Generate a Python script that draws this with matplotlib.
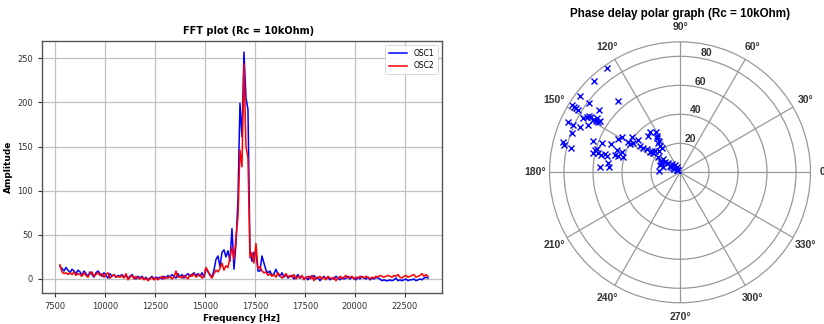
import numpy as np
import matplotlib
matplotlib.use("Agg")
import matplotlib.pyplot as plt

# ---- FFT spectrum (100 Hz bins starting at 7750 Hz) ----
f_start = 7750
f_step = 100

osc1_amp = [
    14, 12, 9, 13, 10, 7, 11, 9, 6, 10,
    8, 4, 9, 6, 3, 8, 5, 2, 7, 9,
    6, 3, 7, 4, 1, 6, 3, 5, 2, 4,
    3, 5, 2, 4, 1, 3, 5, 2, 0, 3,
    1, 3, 0, 2, -1, 1, 3, 0, 2, 1,
    2, 0, 3, 1, 4, 2, 5, 3, 1, 6,
    2, 5, 1, 4, 6, 3, 5, 7, 4, 6,
    3, 7, 2, 12, 8, 5, 2, 10, 22, 26,
    14, 30, 33, 25, 32, 20, 57, 11, 40, 90,
    199, 161, 257, 205, 192, 32, 20, 30, 30, 9,
    9, 26, 18, 10, 7, 9, 4, 6, 11, 5,
    3, 7, 2, 5, 1, 3,
    4, 0, 2, 5, 1, 3, 0, 2, -1, 3,
    1, 4, 0, 2, -2, 1, 3, 0, 2, -1,
    1, 0, 3, 1, -1, 2, 0, 1, 3, 0,
    2, 1, -1, 2, 0, 3, 1, 0, 2, -1,
    1, 0, 2, 1, 0, -2, -1, -2, -2, -1,
    -2, -1, 1, -2, -1, -2, -1, 0, -2, -1,
    -1, 0, -2, -1, 0, -1, 1, 2, 1,
]

osc2_amp = [
    16, 8, 6, 7, 5, 7, 5, 8, 4, 6,
    5, 3, 7, 4, 2, 6, 8, 3, 5, 7,
    4, 6, 2, 5, 7, 1, 3, 5, 2, 3,
    2, 4, 1, 6, -1, 2, 4, 0, 3, 1,
    0, 2, -1, 1, -2, 0, 2, -1, 1, -1,
    1, 3, 0, 2, 1, 3, 0, 2, 9, 2,
    3, 1, 4, 2, 0, 5, 3, 6, 2, 4,
    5, 1, 3, 13, 9, 4, 1, 6, 10, 8,
    12, 18, 10, 15, 13, 24, 36, 22, 47, 70,
    146, 127, 244, 150, 137, 24, 30, 18, 40, 12,
    14, 9, 7, 8, 4, 6, 3, 5, 2, 7,
    4, 1, 3, 6, 2, 4,
    2, 5, 0, 3, 1, 4, -1, 2, 3, 0,
    4, -2, 2, 1, 3, 0, 2, -1, 3, 1,
    0, 2, -2, 1, 3, 0, 2, 4, 1, 2,
    3, 0, 2, 1, 3, 2, 1, 3, 2, 0,
    2, 1, 3, 2, 4, 3, 2, 3, 4, 3,
    2, 4, 3, 5, 2, 1, 3, 4, 2, 3,
    4, 5, 2, 3, 4, 6, 3, 5, 3,
]

freq_ticks = [7500, 10000, 12500, 15000, 17500, 20000, 22500, 25000]
freq_tick_labels = ["7500", "10000", "12500", "15000", "17500", "17500", "20000", "22500"]

# ---- Phase delay samples (degrees, magnitude) ----
phase_deg = [
    125, 133.5, 142.7, 131.2, 148.1, 148.4, 148.3, 148.5, 142.5, 142.3,
    150.8, 148.2, 148.4, 148.9, 148.5, 148.2, 147.2, 155.7, 156.1, 155.8,
    152.9, 159.9, 165.6, 166.7, 167.6, 160.0, 159.7, 157.7, 151.9, 148.3,
    143.5, 142.2, 149.4, 165.3, 164.5, 167.2, 166.9, 167.6, 166.3, 167.4,
    160.4, 160.4, 165.0, 165.1, 165.2, 176.5, 172.8, 176.0, 150.5, 148.2,
    146.6, 146.7, 145.3, 142.6, 139.1, 131.0, 126.5, 120.7, 123.7, 126.7,
    127.2, 127.2, 133.8, 144.1, 149.0, 144.3, 142.2, 135.0, 123.7, 120.5,
    124.0, 175.6, 155.0, 161.3, 147.5, 145.0, 145.0, 149.5, 147.1, 122.7,
    123.6, 144.5, 145.4, 143.1, 159.7, 150.0, 147.0, 145.0,
]
magnitude = [
    88, 86.5, 87, 65.3, 88, 86, 84, 82.5, 78.8, 70.3,
    76.4, 73.8, 72.3, 69.8, 68.2, 66.3, 65.7, 84.8, 80.5, 75.6,
    71.6, 79.6, 83.1, 82.0, 77.2, 63.6, 57.6, 51.4, 48.5, 46.8,
    41.4, 36.4, 41.4, 60.6, 59.6, 61.3, 57.8, 55.8, 53.2, 51.8,
    45.9, 42.7, 46.4, 44.0, 40.4, 55.3, 49.8, 48.8, 39.6, 37.9,
    33.0, 30.2, 27.9, 24.6, 22.8, 33.2, 34.8, 32.5, 28.2, 24.9,
    22.8, 20.8, 20.7, 18.4, 15.5, 12.7, 10.1, 8.1, 6.1, 4.5,
    2.0, 14.3, 14.7, 12.1, 8.2, 5.6, 2.8, 74.7, 68.5, 29.8,
    26.2, 22.6, 25.2, 15.0, 14.7, 7.0, 4.6, 2.3,
]

freqs = f_start + f_step * np.arange(len(osc1_amp))

fig = plt.figure(figsize=(8.24, 3.24), dpi=100)

# ---------------- FFT plot ----------------
ax = fig.add_axes([0.0513, 0.0957, 0.4847, 0.7778])
ax.plot(freqs, osc1_amp, color="#0000ff", lw=1.1, label="OSC1")
ax.plot(freqs, osc2_amp, color="#ff0000", lw=1.1, label="OSC2")
ax.set_xlim(6865, 26835)
ax.set_ylim(-15.9, 269.6)
ax.set_xticks(freq_ticks)
ax.set_xticklabels(freq_tick_labels)
ax.set_yticks([0, 50, 100, 150, 200, 250])
ax.tick_params(labelsize=6, colors="#333333", length=3, width=0.8)
ax.grid(True, color="#c0c0c0", lw=0.9)
for sp in ax.spines.values():
    sp.set_color("#555555")
    sp.set_linewidth(1.0)
ax.set_title("FFT plot (Rc = 10kOhm)", fontsize=7, fontweight="bold", pad=5, x=0.517)
ax.set_xlabel("Frequency [Hz]", fontsize=6.5, fontweight="bold", labelpad=2)
ax.set_ylabel("Amplitude", fontsize=6.5, fontweight="bold", labelpad=3)
leg = ax.legend(loc="upper right", fontsize=5.5, handlelength=2.4,
                borderpad=0.5, labelspacing=0.5, framealpha=0.9)
leg.get_frame().set_linewidth(0.6)

# ---------------- Polar plot ----------------
pax = fig.add_axes([0.6669, 0.0654, 0.3167, 0.8056], projection="polar")
pax.plot(np.deg2rad(phase_deg), magnitude, linestyle="none", marker="x",
         color="#0000ff", markersize=4, markeredgewidth=1.0)
pax.set_rlim(0, 90)
pax.set_rticks([20, 40, 60, 80])
pax.set_rlabel_position(80)
pax.set_thetagrids(np.arange(0, 360, 30))
pfont = dict(family="Liberation Sans", fontweight="bold", fontsize=7.5, color="#333333")
for lab in pax.get_xticklabels():
    lab.set(**pfont)
for lab in pax.get_yticklabels():
    lab.set(**pfont)
pax.tick_params(axis="x", pad=0)
pax.grid(True, color="#999999", lw=0.9)
pax.spines["polar"].set_color("#999999")
pax.spines["polar"].set_linewidth(0.9)
fig.text(680 / 824, 1 - 14 / 324, "Phase delay polar graph (Rc = 10kOhm)",
         family="Liberation Sans", fontweight="bold", fontsize=8.4,
         ha="center", va="center")

fig.savefig("out.png", dpi=100)
